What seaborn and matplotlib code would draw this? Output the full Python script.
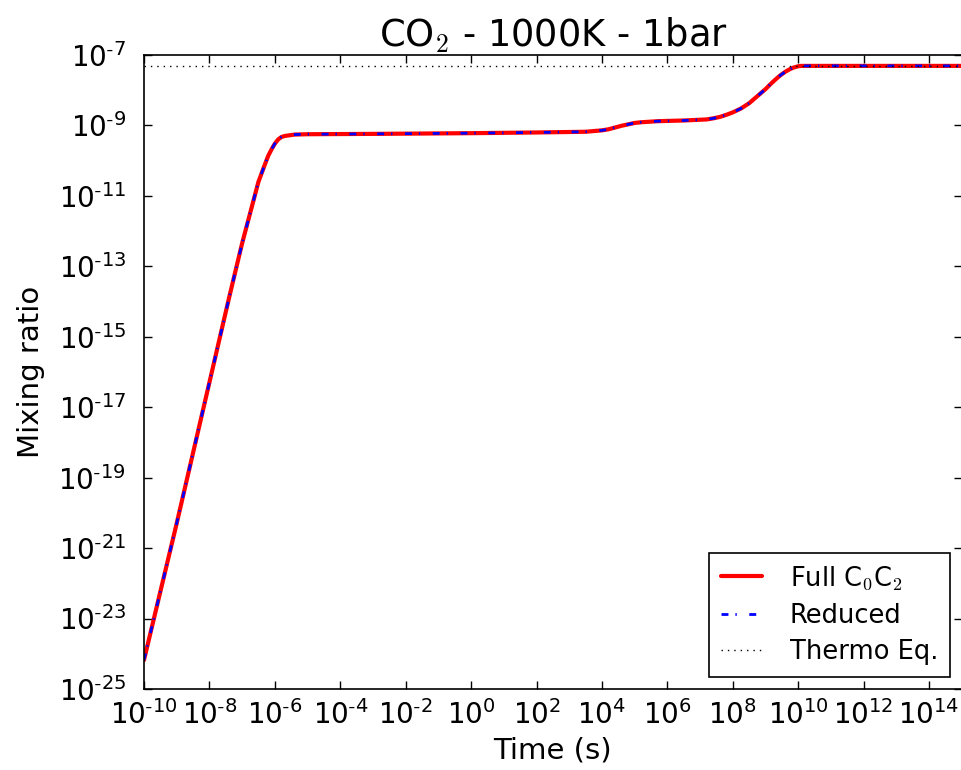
import numpy as np
import matplotlib
matplotlib.use("Agg")
import matplotlib.pyplot as plt
import matplotlib.ticker as mticker
import seaborn as sns

# values (time in s, mixing ratio)
time_s = [1e-10, 1e-9, 1e-8, 10**-7.4, 1e-7, 10**-6.5, 10**-6.3, 10**-6.2,
          10**-6.1, 1e-6, 10**-5.9, 10**-5.8, 10**-5.7, 10**-5.4, 1e-5,
          1e-3, 1e0, 1e2, 10**3.5, 1e4, 10**4.2, 10**4.4, 10**4.6, 10**4.8,
          1e5, 10**5.2, 10**5.45, 10**5.7, 10**6.5, 10**7.2, 10**7.4,
          10**7.6, 10**7.8, 1e8, 10**8.25, 10**8.5, 10**8.75, 1e9,
          10**9.15, 10**9.3, 10**9.45, 10**9.6, 10**9.75, 10**9.85, 1e10,
          10**10.1, 1e12, 1e15]
full_c0c2 = [10**-24.18, 10**-20.3, 10**-16.3, 10**-13.9, 10**-12.35,
             10**-10.6, 10**-10.1, 10**-9.86, 10**-9.68, 10**-9.52,
             10**-9.40, 10**-9.33, 10**-9.30, 10**-9.26, 10**-9.25,
             10**-9.24, 10**-9.22, 10**-9.20, 10**-9.18, 10**-9.14,
             10**-9.11, 10**-9.06, 10**-9.01, 10**-8.97, 10**-8.93,
             10**-8.91, 10**-8.895, 10**-8.88, 10**-8.86, 10**-8.83,
             10**-8.80, 10**-8.76, 10**-8.70, 10**-8.63, 10**-8.52,
             10**-8.37, 10**-8.17, 10**-7.97, 10**-7.83, 10**-7.70,
             10**-7.58, 10**-7.48, 10**-7.40, 10**-7.36, 10**-7.32,
             10**-7.31, 10**-7.31, 10**-7.31]
reduced = list(full_c0c2)
thermo_t = [1e-10, 1e15]
thermo_eq = [10**-7.31, 10**-7.31]

sns.set_style("ticks")
plt.rcParams['font.family'] = ['DejaVu Sans']
plt.rcParams['mathtext.fontset'] = 'cm'
plt.rcParams['text.color'] = 'black'
plt.rcParams['axes.labelcolor'] = 'black'
plt.rcParams['xtick.color'] = 'black'
plt.rcParams['ytick.color'] = 'black'
plt.rcParams['lines.scale_dashes'] = False

fig = plt.figure(figsize=(9.61, 7.70), dpi=100)
ax = fig.add_axes([0.1498, 0.1052, 0.851, 0.8234])

sns.lineplot(x=time_s, y=full_c0c2, ax=ax, color='red', lw=3,
             label=r'Full C$_0$C$_2$')
sns.lineplot(x=time_s, y=reduced, ax=ax, color='blue', lw=2,
             linestyle=(0, (5, 5, 1, 9)), label='Reduced')
sns.lineplot(x=thermo_t, y=thermo_eq, ax=ax, color='black', lw=1,
             linestyle=(0, (1, 3.6)), label='Thermo Eq.')


def log_fmt(v, pos):
    e = int(round(np.log10(v)))
    if e < 0:
        return r'$\mathdefault{10^{\text{-}%d}}$' % (-e)
    return r'$\mathdefault{10^{%d}}$' % e


ax.set_xscale('log')
ax.set_yscale('log')
ax.set_xlim(1e-10, 1e15)
ax.set_ylim(1e-25, 1e-7)
ax.set_xticks([10.0**k for k in range(-10, 15, 2)])
ax.set_yticks([10.0**k for k in range(-25, -6, 2)])
ax.xaxis.set_minor_locator(mticker.NullLocator())
ax.yaxis.set_minor_locator(mticker.NullLocator())
ax.xaxis.set_major_formatter(mticker.FuncFormatter(log_fmt))
ax.yaxis.set_major_formatter(mticker.FuncFormatter(log_fmt))
ax.tick_params(direction='in', length=6, width=1, top=True, right=True,
               labelsize=20, color='black')
ax.tick_params(axis='x', pad=8)
ax.tick_params(axis='y', pad=13)
for s in ax.spines.values():
    s.set_linewidth(1.2)
    s.set_color('black')

ax.set_xlabel('Time (s)', fontsize=21, labelpad=5)
ax.set_ylabel('Mixing ratio', fontsize=21, labelpad=10)
ax.set_title(r'CO$_2$ - 1000K - 1bar', fontsize=26.5, pad=6)

leg = ax.legend(loc='lower right', fontsize=18.5, frameon=True, fancybox=False,
                handlelength=1.6, handletextpad=1.1, borderpad=0.45,
                labelspacing=0.42, borderaxespad=0,
                bbox_to_anchor=(0.9855, 0.019))
leg.get_frame().set_edgecolor('black')
leg.get_frame().set_linewidth(1.2)
leg.get_frame().set_alpha(1)

fig.savefig('out.png', dpi=100)
